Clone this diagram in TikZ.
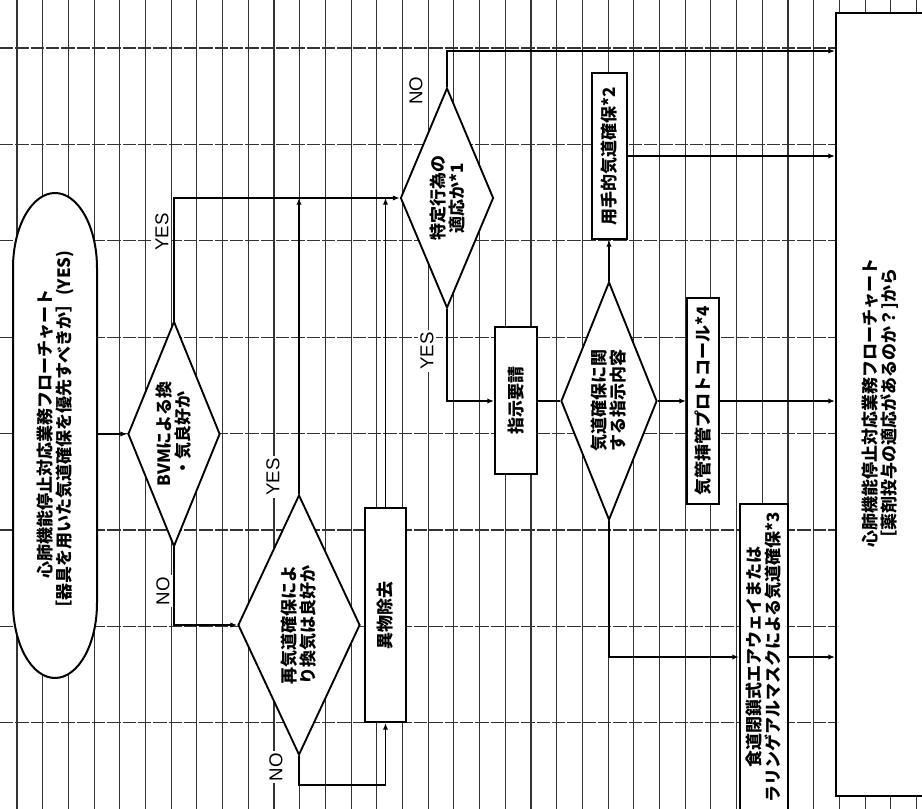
\documentclass[tikz,border=0pt]{standalone}
\usepackage{fontspec}
\setmainfont{Noto Sans CJK JP}
\newfontfamily\latinlab{Liberation Sans}
\usetikzlibrary{shapes.geometric,arrows.meta,calc}
\newcommand\jtxt{\fontsize{12.75}{14.25}\selectfont\bfseries}
\begin{document}
\begin{tikzpicture}[x=0.75pt,y=-0.75pt,
  rule/.style={line width=0.85pt,black!80},
  hrule/.style={line width=0.85pt,black!80,dash pattern=on 10pt off 1.5pt},
  flow/.style={line width=1.3pt},
  arr/.style={flow,-{Latex[length=5pt,width=4pt]}},
  sz/.style 2 args={minimum width=#1*0.75pt,minimum height=#2*0.75pt},
  box/.style={draw,line width=1.5pt,fill=white,rectangle,rotate=90,inner sep=0pt,align=center,font=\jtxt},
  dia/.style={draw,line width=1.4pt,fill=white,diamond,rotate=90,inner sep=0pt,align=center,font=\jtxt},
  lab/.style={fill=white,rotate=90,inner sep=1.5pt,font=\latinlab\fontsize{14}{14}\selectfont},
]
\useasboundingbox (0,0) rectangle (922,809);
\clip (0,0) rectangle (922,809);
\fill[white] (0,0) rectangle (922,809);
% ruled paper
\foreach \k in {0,...,35} \draw[rule] ({17+25.7*\k},0) -- ({17+25.7*\k},809);
\foreach \k in {0,...,7} \draw[hrule] (0,{48+96.4*\k}) -- (922,{48+96.4*\k});

% start terminal
\draw[line width=1.5pt,fill=white] (13,268) arc[start angle=180,end angle=360,x radius=42,y radius=75]
  -- (97,603) arc[start angle=0,end angle=180,x radius=42,y radius=75] -- cycle;
\node[rotate=90,align=center,font=\jtxt,inner sep=0pt,sz={484}{84}] (start) at (55,434)
  {心肺機能停止対応業務フローチャート\\［器具を用いた気道確保を優先すべきか］(YES)};

% decisions
\node[dia,sz={225}{92},shape aspect=2.45] (bvm) at (174,434) {BVMによる換\\・気良好か};
\node[dia,sz={260}{122},shape aspect=2.13] (re) at (299,625) {再気道確保によ\\り換気は良好か};
\node[dia,sz={220}{93},shape aspect=2.37] (tok) at (447,198) {特定行為の\\適応か*1};
\node[dia,sz={238}{96},shape aspect=2.48] (naiyo) at (609,401) {気道確保に関\\する指示内容};

% process boxes
\node[box,sz={214}{41}] (ibutsu) at (385.5,615) {異物除去};
\node[box,sz={147}{42}] (shiji) at (516,401) {指示要請};
\node[box,sz={166}{35}] (manual) at (609,156) {用手的気道確保*2};
\node[box,sz={206}{32}] (kikan) at (703,401) {気管挿管プロトコール*4};
\node[box,sz={305}{48}] (esoph) at (764,657) {食道閉鎖式エアウェイまたは\\ラリンゲアルマスクによる気道確保*3};

% target box
\node[draw,line width=1.5pt,fill=white,rectangle,anchor=north west,inner sep=0pt,sz={100}{783}] (bigbox) at (835,12) {};
\node[rotate=90,align=left,font=\jtxt,inner sep=0pt] (bigtext) at (880,403)
  {心肺機能停止対応業務フローチャート\\［薬剤投与の適応があるのか？]から};

% connectors
\draw[arr] (start.south) -- (bvm.north);
\draw[arr] (bvm.east) |- (tok.north);
\draw[arr] (bvm.west) |- (re.north);
\draw[arr] (re.east) -- (re.east |- tok.north);
\coordinate (reNO) at (299,785);
\draw[arr] (re.west) -- (reNO) -| (ibutsu.west);
\draw[arr] (ibutsu.east) -- (ibutsu.east |- tok.north);
\coordinate (noTurn) at (447,51);
\draw[arr] (tok.east) -- (noTurn) -- (noTurn -| bigbox.west);
\draw[arr] (tok.west) |- (shiji.north);
\draw[flow] (shiji.south) -- (naiyo.north);
\draw[arr] (naiyo.east) -- (manual.west);
\draw[arr] (naiyo.south) -- (kikan.north);
\draw[arr] (naiyo.west) |- (esoph.north);
\draw[arr] (manual.south) -- (manual.south -| bigbox.west);
\draw[arr] (kikan.south) -- (kikan.south -| bigbox.west);
\draw[arr] (esoph.south) -- (esoph.south -| bigbox.west);

% labels
\node[lab] (yes1) at (162,232) {YES};
\node[lab] (no1) at (163,591) {NO};
\node[lab] (yes2) at (273,477) {YES};
\node[lab] (no2) at (276,767) {NO};
\node[lab] (no3) at (416,91) {NO};
\node[lab] (yes3) at (427,351) {YES};
\end{tikzpicture}
\end{document}
